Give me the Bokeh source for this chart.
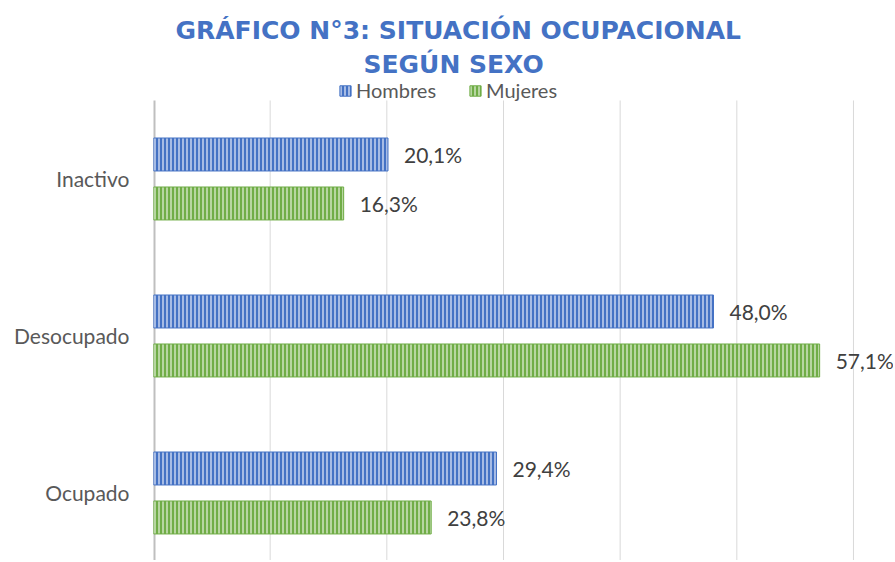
from bokeh.plotting import figure
from bokeh.models import (ColumnDataSource, Legend, LegendItem, Title, Range1d, FixedTicker)
from bokeh.embed import file_html
from bokeh.resources import INLINE
from bokeh.transform import dodge

categories = ["Ocupado", "Desocupado", "Inactivo"]
hombres = [29.4, 48.0, 20.1]
mujeres = [23.8, 57.1, 16.3]
x_ticks = [0, 10, 20, 30, 40, 50, 60]

def fmt(v):
    return f"{v:.1f}".replace(".", ",") + "%"

pos = list(range(len(categories)))
src = ColumnDataSource(data=dict(
    pos=pos,
    hombres=hombres,
    mujeres=mujeres,
    h_lab=[fmt(v) for v in hombres],
    m_lab=[fmt(v) for v in mujeres],
))

FONT = "Lato"
BLUE = "#4472C4"
GREEN = "#70AD47"

W, H = 893, 560
LEFT = 153
TOP = 78
Y_TOP_CAT = len(categories) - 0.5
Y_START = -0.43
Y_END = Y_TOP_CAT + 0.14
X_END = 63.43

p = figure(width=W, height=H, output_backend="svg", toolbar_location=None,
           title=None, x_range=Range1d(0, X_END), y_range=Range1d(Y_START, Y_END),
           min_border_left=LEFT, min_border_right=0, min_border_bottom=0,
           min_border_top=TOP)
p.outline_line_color = None
p.background_fill_color = "white"
p.border_fill_color = "white"

grid_x = x_ticks[1:]
p.segment(x0=grid_x, x1=grid_x, y0=[Y_START] * len(grid_x), y1=[Y_TOP_CAT] * len(grid_x),
          line_color="#D9D9D9", line_width=1)
p.segment(x0=[0], x1=[0], y0=[Y_START], y1=[Y_TOP_CAT], line_color="#BFBFBF", line_width=4)

rh = p.hbar(y=dodge("pos", 0.156, range=p.y_range), right="hombres", left=0, height=0.21,
            source=src, fill_color=BLUE, line_color=BLUE, line_width=1,
            hatch_pattern="vertical_line", hatch_color="#C5D3EE", hatch_scale=4,
            hatch_weight=1.6, hatch_alpha=0.95)
rm = p.hbar(y=dodge("pos", -0.156, range=p.y_range), right="mujeres", left=0, height=0.21,
            source=src, fill_color=GREEN, line_color=GREEN, line_width=1,
            hatch_pattern="vertical_line", hatch_color="#CDE3BE", hatch_scale=4,
            hatch_weight=1.6, hatch_alpha=0.95)

p.text(x="hombres", y=dodge("pos", 0.156, range=p.y_range), text="h_lab", source=src,
       x_offset=16, text_align="left", text_baseline="middle",
       text_font_size="21px", text_color="#404040", text_font={"value": FONT})
p.text(x="mujeres", y=dodge("pos", -0.156, range=p.y_range), text="m_lab", source=src,
       x_offset=16, text_align="left", text_baseline="middle",
       text_font_size="21px", text_color="#404040", text_font={"value": FONT})

p.xaxis.visible = False
p.xgrid.grid_line_color = None
p.ygrid.grid_line_color = None

ax = p.yaxis[0]
ax.ticker = FixedTicker(ticks=pos)
ax.major_label_overrides = {i: c for i, c in zip(pos, categories)}
ax.major_tick_line_color = None
ax.minor_tick_line_color = None
ax.axis_line_color = None
ax.major_label_text_font_size = "21px"
ax.major_label_text_color = "#595959"
ax.major_label_text_font = FONT
ax.major_label_standoff = 18

legend = Legend(items=[LegendItem(label="Hombres", renderers=[rh]),
                       LegendItem(label="Mujeres", renderers=[rm])],
                orientation="horizontal", location=(185, 458),
                label_text_font_size="20px", label_text_color="#595959",
                label_text_font=FONT, glyph_width=14, glyph_height=13,
                label_standoff=4, spacing=32, padding=0, margin=0,
                border_line_color=None, background_fill_alpha=0,
                label_height=16)
p.add_layout(legend, "center")

TFONT = "DejaVu Sans"
t2 = Title(text="SEGÚN SEXO", align="left", offset=210, text_font_size="25px",
           text_font=TFONT, text_font_style="bold", text_color=BLUE, standoff=0)
t1 = Title(text="GRÁFICO N°3: SITUACIÓN OCUPACIONAL", align="left", offset=22,
           text_font_size="25px", text_font=TFONT, text_font_style="bold",
           text_color=BLUE, standoff=5)
p.add_layout(t2, "above")
p.add_layout(t1, "above")

open("out.html", "w").write(file_html(p, INLINE))
